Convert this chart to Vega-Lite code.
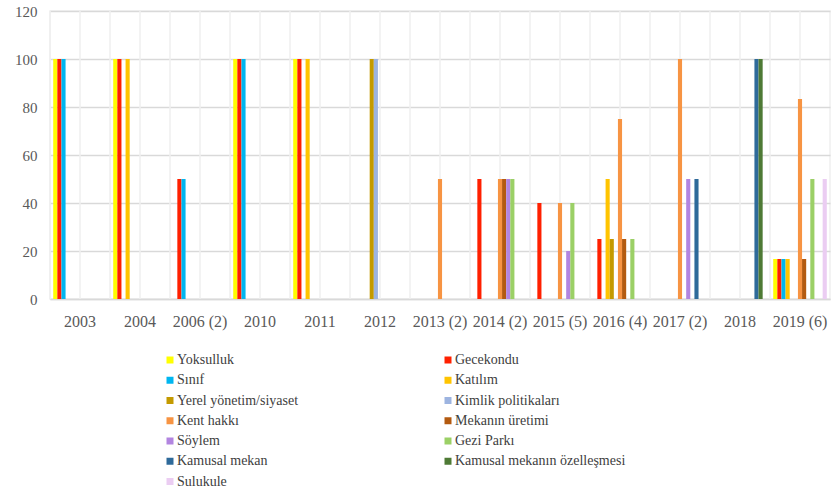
{
  "$schema": "https://vega.github.io/schema/vega-lite/v6.json",
  "width": 780,
  "height": 288,
  "autosize": {"type": "none"},
  "padding": {"left": 50, "top": 11, "right": 8, "bottom": 194},
  "background": "white",
  "config": {
    "font": "Liberation Serif",
    "view": {"stroke": "#EFEFEF", "strokeWidth": 1.5},
    "axisX": {
      "labelAngle": 0, "labelFontSize": 16, "labelColor": "#595959",
      "labelFont": "Liberation Serif", "bandPosition": 0.5, "labelAlign": "center",
      "labelPadding": 14, "ticks": false, "tickSize": 0, "domainColor": "#D9D9D9",
      "domainWidth": 1.5, "grid": false, "title": null
    }
  },
  "datasets": {
    "cats": [
      {"year": "2003"}, {"year": "2004"}, {"year": "2006 (2)"}, {"year": "2010"},
      {"year": "2011"}, {"year": "2012"}, {"year": "2013 (2)"}, {"year": "2014 (2)"},
      {"year": "2015 (5)"}, {"year": "2016 (4)"}, {"year": "2017 (2)"}, {"year": "2018"},
      {"year": "2019 (6)"}
    ],
    "bars": [
      {"year": "2003", "tema": "Yoksulluk", "value": 100},
      {"year": "2003", "tema": "Gecekondu", "value": 100},
      {"year": "2003", "tema": "Sınıf", "value": 100},
      {"year": "2004", "tema": "Yoksulluk", "value": 100},
      {"year": "2004", "tema": "Gecekondu", "value": 100},
      {"year": "2004", "tema": "Katılım", "value": 100},
      {"year": "2006 (2)", "tema": "Gecekondu", "value": 50},
      {"year": "2006 (2)", "tema": "Sınıf", "value": 50},
      {"year": "2010", "tema": "Yoksulluk", "value": 100},
      {"year": "2010", "tema": "Gecekondu", "value": 100},
      {"year": "2010", "tema": "Sınıf", "value": 100},
      {"year": "2011", "tema": "Yoksulluk", "value": 100},
      {"year": "2011", "tema": "Gecekondu", "value": 100},
      {"year": "2011", "tema": "Katılım", "value": 100},
      {"year": "2012", "tema": "Yerel yönetim/siyaset", "value": 100},
      {"year": "2012", "tema": "Kimlik politikaları", "value": 100},
      {"year": "2013 (2)", "tema": "Kent hakkı", "value": 50},
      {"year": "2014 (2)", "tema": "Gecekondu", "value": 50},
      {"year": "2014 (2)", "tema": "Kent hakkı", "value": 50},
      {"year": "2014 (2)", "tema": "Mekanın üretimi", "value": 50},
      {"year": "2014 (2)", "tema": "Söylem", "value": 50},
      {"year": "2014 (2)", "tema": "Gezi Parkı", "value": 50},
      {"year": "2015 (5)", "tema": "Gecekondu", "value": 40},
      {"year": "2015 (5)", "tema": "Kent hakkı", "value": 40},
      {"year": "2015 (5)", "tema": "Söylem", "value": 20},
      {"year": "2015 (5)", "tema": "Gezi Parkı", "value": 40},
      {"year": "2016 (4)", "tema": "Gecekondu", "value": 25},
      {"year": "2016 (4)", "tema": "Katılım", "value": 50},
      {"year": "2016 (4)", "tema": "Yerel yönetim/siyaset", "value": 25},
      {"year": "2016 (4)", "tema": "Kent hakkı", "value": 75},
      {"year": "2016 (4)", "tema": "Mekanın üretimi", "value": 25},
      {"year": "2016 (4)", "tema": "Gezi Parkı", "value": 25},
      {"year": "2017 (2)", "tema": "Kent hakkı", "value": 100},
      {"year": "2017 (2)", "tema": "Söylem", "value": 50},
      {"year": "2017 (2)", "tema": "Kamusal mekan", "value": 50},
      {"year": "2018", "tema": "Kamusal mekan", "value": 100},
      {"year": "2018", "tema": "Kamusal mekanın özelleşmesi", "value": 100},
      {"year": "2019 (6)", "tema": "Yoksulluk", "value": 16.67},
      {"year": "2019 (6)", "tema": "Gecekondu", "value": 16.67},
      {"year": "2019 (6)", "tema": "Sınıf", "value": 16.67},
      {"year": "2019 (6)", "tema": "Katılım", "value": 16.67},
      {"year": "2019 (6)", "tema": "Kent hakkı", "value": 83.33},
      {"year": "2019 (6)", "tema": "Mekanın üretimi", "value": 16.67},
      {"year": "2019 (6)", "tema": "Gezi Parkı", "value": 50},
      {"year": "2019 (6)", "tema": "Sulukule", "value": 50}
    ]
  },
  "layer": [
    {
      "data": {"name": "cats"},
      "mark": {"type": "rule", "color": "#EFEFEF", "strokeWidth": 1.5},
      "encoding": {
        "x": {"field": "year", "type": "nominal", "bandPosition": 0, "sort": null, "axis": {"bandPosition": 0.5}}
      }
    },
    {
      "data": {"name": "cats"},
      "mark": {"type": "rule", "color": "#EFEFEF", "strokeWidth": 1.5},
      "encoding": {
        "x": {"field": "year", "type": "nominal", "bandPosition": 0.5, "sort": null, "axis": {"bandPosition": 0.5}}
      }
    },
    {
      "data": {"name": "bars"},
      "mark": {"type": "bar"},
      "encoding": {
        "x": {
          "field": "year", "type": "nominal", "sort": null, "title": null,
          "scale": {
            "domain": ["2003", "2004", "2006 (2)", "2010", "2011", "2012", "2013 (2)", "2014 (2)", "2015 (5)", "2016 (4)", "2017 (2)", "2018", "2019 (6)"],
            "paddingInner": 0, "paddingOuter": 0
          },
          "axis": {"bandPosition": 0.5}
        },
        "xOffset": {
          "field": "tema", "type": "nominal",
          "scale": {
            "domain": ["Yoksulluk", "Gecekondu", "Sınıf", "Katılım", "Yerel yönetim/siyaset", "Kimlik politikaları", "Kent hakkı", "Mekanın üretimi", "Söylem", "Gezi Parkı", "Kamusal mekan", "Kamusal mekanın özelleşmesi", "Sulukule"],
            "paddingInner": 0, "paddingOuter": 0.78
          }
        },
        "y": {
          "field": "value", "type": "quantitative", "title": null,
          "scale": {"domain": [0, 120], "nice": false},
          "axis": {
            "values": [0, 20, 40, 60, 80, 100, 120],
            "labelFontSize": 15, "labelColor": "#595959", "labelPadding": 13,
            "labelFont": "Liberation Serif",
            "ticks": false, "tickSize": 0, "domain": false, "gridColor": "#D9D9D9", "gridWidth": 1.5
          }
        },
        "color": {
          "field": "tema", "type": "nominal", "title": null,
          "scale": {
            "domain": ["Yoksulluk", "Gecekondu", "Sınıf", "Katılım", "Yerel yönetim/siyaset", "Kimlik politikaları", "Kent hakkı", "Mekanın üretimi", "Söylem", "Gezi Parkı", "Kamusal mekan", "Kamusal mekanın özelleşmesi", "Sulukule"],
            "range": ["#FFFF00", "#FF2000", "#00B6F0", "#FFC400", "#C49A00", "#9DB4E0", "#F79443", "#B35A10", "#B285E0", "#9BD066", "#2E6A9A", "#4E7A35", "#EBCDF2"]
          },
          "legend": {
            "orient": "none", "legendX": 113, "legendY": 342,
            "direction": "horizontal",
            "columns": 2, "columnPadding": 142, "rowPadding": 6.25,
            "symbolType": "square", "symbolSize": 49, "symbolStrokeWidth": 0,
            "symbolOpacity": 1,
            "labelFont": "Liberation Serif", "labelBaseline": "middle",
            "labelFontSize": 14, "labelColor": "#404040", "labelOffset": 0,
            "labelLimit": 400, "padding": 0
          }
        }
      }
    }
  ]
}
